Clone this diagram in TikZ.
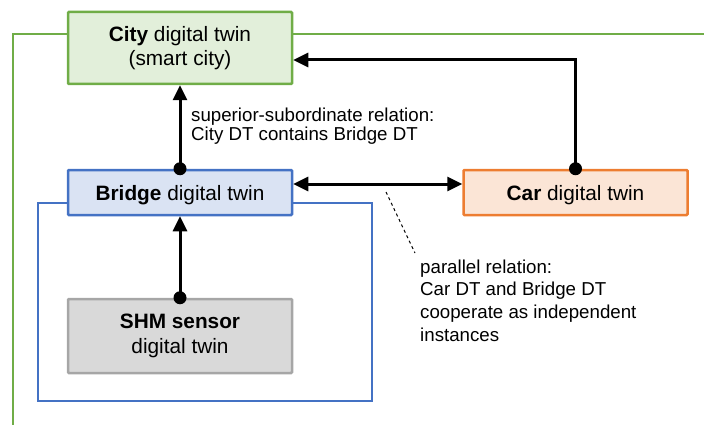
\documentclass[tikz,border=0pt]{standalone}
\usepackage{fontspec}
\setmainfont{Liberation Sans}
\usetikzlibrary{arrows.meta}

\definecolor{citygreen}{HTML}{70AD47}
\definecolor{cityfill}{HTML}{E2EFDA}
\definecolor{bridgeblue}{HTML}{4472C4}
\definecolor{bridgefill}{HTML}{DAE3F3}
\definecolor{carorange}{HTML}{ED7D31}
\definecolor{carfill}{HTML}{FBE5D6}
\definecolor{sensorgray}{HTML}{A6A6A6}
\definecolor{sensorfill}{HTML}{D9D9D9}

\tikzset{
  twin/.style={draw, line width=2.5pt, rounded corners=1pt, align=center,
    minimum width=224pt, inner sep=0pt,
    font=\fontsize{20.8}{24.4}\selectfont},
  oneline/.style={text depth=0pt},
  note/.style={align=left, inner sep=0pt, anchor=base west},
  link/.style={line width=3pt, -{Triangle[length=15pt,width=14pt]}},
  both/.style={line width=3pt, {Triangle[length=15pt,width=14pt]}-{Triangle[length=15pt,width=14pt]}},
  frame/.style={line width=1.6pt},
}

\begin{document}
\begin{tikzpicture}[x=1pt,y=-1pt]
\useasboundingbox (0,0) rectangle (704,425);

% enclosing scopes: the city (green) and the bridge (blue)
\draw[frame, citygreen] (13,425) -- (13,34) -- (704,34);
\draw[frame, bridgeblue] (38,203) rectangle (372,401);

% digital twin boxes
\node[twin, draw=citygreen, fill=cityfill, minimum height=72pt] (city) at (180,48)
  {\textbf{City} digital twin\\(smart city)};
\node[twin, oneline, draw=bridgeblue, fill=bridgefill, minimum height=45pt] (bridge) at (180,192.5)
  {\textbf{Bridge} digital twin};
\node[twin, oneline, draw=carorange, fill=carfill, minimum height=45pt] (car) at (575.5,192.5)
  {\textbf{Car} digital twin};
\node[twin, draw=sensorgray, fill=sensorfill, minimum height=74pt] (shm) at (180,336)
  {\textbf{SHM sensor}\\digital twin};

% relations
\draw[link] (bridge.north) -- (city.south);
\fill (bridge.north) circle (6.5pt);
\draw[link] (shm.north) -- (bridge.south);
\fill (shm.north) circle (6.5pt);
\coordinate (turn) at (575.5,60);
\draw[link] (car.north) -- (turn) -- (city.east |- turn);
\fill (car.north) circle (6.5pt);
\draw[both] ([yshift=8.5pt]bridge.east) -- ([yshift=8.5pt]car.west);

% annotations (positioned by the baseline of their last line)
\node[note, font=\fontsize{18.7}{20}\selectfont] (supnote) at (191,141)
  {superior-subordinate relation:\\City DT contains Bridge DT};
\node[note, font=\fontsize{18.7}{22.6}\selectfont] (parnote) at (420,341)
  {parallel relation:\\Car DT and Bridge DT\\cooperate as independent\\instances};
\coordinate (lead) at (386,192);
\coordinate (leadend) at (415,253);
\draw[dashed, line width=1pt, dash pattern=on 3pt off 3pt] (lead) -- (leadend);
\end{tikzpicture}
\end{document}
